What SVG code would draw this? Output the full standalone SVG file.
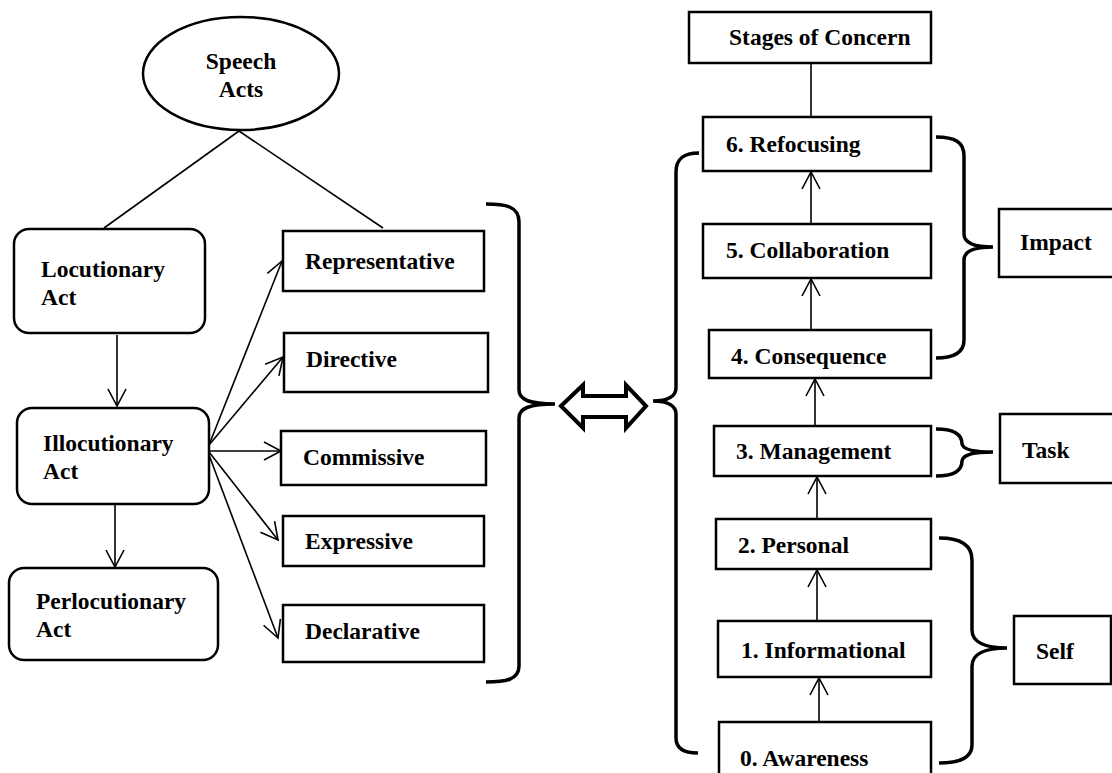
<svg xmlns="http://www.w3.org/2000/svg" width="1112" height="773" viewBox="0 0 1112 773">
<style>
.box{fill:#fff;stroke:#000;stroke-width:2.5}
.t{font-family:"Liberation Serif","Times New Roman",serif;font-weight:bold;font-size:23.5px;fill:#000}
.c{fill:none;stroke:#000;stroke-width:1.6}
.brace{fill:none;stroke:#000;stroke-width:3.5;stroke-linecap:butt}
</style>
<defs>
<marker id="ah" viewBox="0 0 20 20" refX="18" refY="10" markerWidth="20" markerHeight="20" markerUnits="userSpaceOnUse" orient="auto">
<path d="M1,1 L18,10 L1,19" fill="none" stroke="#000" stroke-width="1.6"/>
</marker>
</defs>
<rect width="1112" height="773" fill="#fff"/>

<g id="connectors">
<line class="c" x1="239" y1="131" x2="104" y2="228"/>
<line class="c" x1="239" y1="131" x2="383" y2="228"/>
<line class="c" x1="117" y1="335" x2="117" y2="406" marker-end="url(#ah)"/>
<line class="c" x1="115" y1="505" x2="115" y2="567" marker-end="url(#ah)"/>
<line class="c" x1="209" y1="445" x2="282" y2="261" marker-end="url(#ah)"/>
<line class="c" x1="209" y1="445" x2="283" y2="357" marker-end="url(#ah)"/>
<line class="c" x1="209" y1="451" x2="281" y2="451" marker-end="url(#ah)"/>
<line class="c" x1="209" y1="452" x2="278" y2="540" marker-end="url(#ah)"/>
<line class="c" x1="209" y1="455" x2="278" y2="638" marker-end="url(#ah)"/>
<line class="c" x1="811" y1="63" x2="811" y2="117"/>
<line class="c" x1="811" y1="224" x2="811" y2="172" marker-end="url(#ah)"/>
<line class="c" x1="811" y1="330" x2="811" y2="279" marker-end="url(#ah)"/>
<line class="c" x1="815" y1="426" x2="815" y2="379" marker-end="url(#ah)"/>
<line class="c" x1="817" y1="519" x2="817" y2="477" marker-end="url(#ah)"/>
<line class="c" x1="817" y1="621" x2="817" y2="570" marker-end="url(#ah)"/>
<line class="c" x1="819" y1="722" x2="819" y2="678" marker-end="url(#ah)"/>
<path class="brace" d="M486,204 C505,204 519,206 519,222 L519,390 C519,400 530,404 555,404 C530,404 519,408 519,418 L519,666 C519,680 505,682 486,682"/>
<path class="brace" d="M699,153 C684,153 676,158 676,172 L676,388 C676,396 668,401 653,401 C668,401 676,406 676,414 L676,738 C676,748 684,753 698,753"/>
<path class="brace" d="M936,137 C955,137 964,142 964,156 L964,234 C964,243 975,247 993,247 C975,247 964,251 964,260 L964,340 C964,352 955,358 936,358"/>
<path class="brace" d="M936,429 C955,429 962,435 962,444 C963,450 975,452 993,452 C975,452 963,454 962,461 C962,470 955,476 936,476"/>
<path class="brace" d="M939,538 C960,538 972,545 972,560 L972,630 C972,642 985,648 1007,648 C985,648 972,654 972,666 L972,745 C972,757 960,763 939,763"/>
<polygon points="561,406 583,385 583,396 626,396 626,385 646,406 626,428 626,417 583,417 583,428" fill="#fff" stroke="#000" stroke-width="4" stroke-linejoin="miter"/>
</g>

<g id="speech-acts">
<ellipse class="box" cx="241" cy="73.5" rx="98" ry="56.5"/>
<text class="t" x="241" y="69" text-anchor="middle">Speech</text>
<text class="t" x="241" y="97" text-anchor="middle">Acts</text>
</g>
<g id="locutionary">
<rect class="box" x="14" y="229" width="191" height="104" rx="15"/>
<text class="t" x="41" y="277">Locutionary</text>
<text class="t" x="41" y="305">Act</text>
</g>
<g id="illocutionary">
<rect class="box" x="17" y="408" width="192" height="96" rx="15"/>
<text class="t" x="43" y="451">Illocutionary</text>
<text class="t" x="43" y="479">Act</text>
</g>
<g id="perlocutionary">
<rect class="box" x="9" y="568" width="209" height="92" rx="15"/>
<text class="t" x="36" y="609">Perlocutionary</text>
<text class="t" x="36" y="637">Act</text>
</g>
<g id="representative">
<rect class="box" x="283" y="231" width="201" height="60"/>
<text class="t" x="305" y="269">Representative</text>
</g>
<g id="directive">
<rect class="box" x="284" y="333" width="204" height="59"/>
<text class="t" x="306" y="367">Directive</text>
</g>
<g id="commissive">
<rect class="box" x="281" y="431" width="205" height="54"/>
<text class="t" x="303" y="465">Commissive</text>
</g>
<g id="expressive">
<rect class="box" x="283" y="516" width="201" height="50"/>
<text class="t" x="305" y="549">Expressive</text>
</g>
<g id="declarative">
<rect class="box" x="283" y="605" width="201" height="57"/>
<text class="t" x="305" y="639">Declarative</text>
</g>
<g id="stages">
<rect class="box" x="689" y="12" width="242" height="51"/>
<text class="t" x="729" y="45">Stages of Concern</text>
</g>
<g id="s6">
<rect class="box" x="703" y="117" width="228" height="54"/>
<text class="t" x="726" y="152">6. Refocusing</text>
</g>
<g id="s5">
<rect class="box" x="703" y="224" width="228" height="54"/>
<text class="t" x="726" y="258">5. Collaboration</text>
</g>
<g id="s4">
<rect class="box" x="709" y="330" width="222" height="48"/>
<text class="t" x="731" y="364">4. Consequence</text>
</g>
<g id="s3">
<rect class="box" x="714" y="426" width="217" height="50"/>
<text class="t" x="736" y="459">3. Management</text>
</g>
<g id="s2">
<rect class="box" x="716" y="519" width="215" height="50"/>
<text class="t" x="738" y="553">2. Personal</text>
</g>
<g id="s1">
<rect class="box" x="718" y="621" width="213" height="56"/>
<text class="t" x="741" y="658">1. Informational</text>
</g>
<g id="s0">
<rect class="box" x="719" y="722" width="212" height="60"/>
<text class="t" x="740" y="766">0. Awareness</text>
</g>
<g id="impact">
<rect class="box" x="999" y="209" width="120" height="68"/>
<text class="t" x="1020" y="250">Impact</text>
</g>
<g id="task">
<rect class="box" x="1000" y="414" width="120" height="69"/>
<text class="t" x="1022" y="458">Task</text>
</g>
<g id="self">
<rect class="box" x="1014" y="616" width="97" height="68"/>
<text class="t" x="1036" y="659">Self</text>
</g>
</svg>
